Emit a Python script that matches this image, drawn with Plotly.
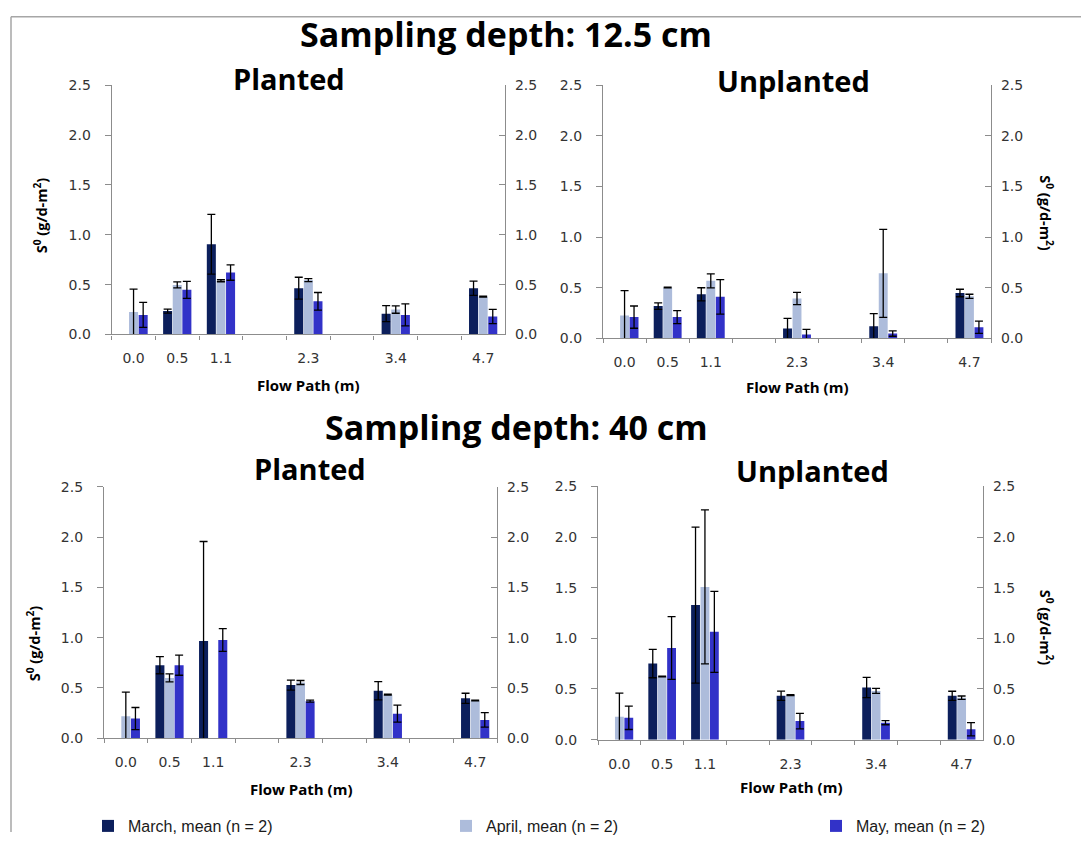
import plotly.graph_objects as go

# ---------------- data ----------------
flow_path = ["0.0", "0.5", "1.1", "2.3", "3.4", "4.7"]
# category slots on the axis (blank slots keep the uneven spacing of the original)
axis_categories = ["0.0", "0.5", "1.1", " ", "2.3", "  ", "3.4", "   ", "4.7"]
y_ticks = [0.0, 0.5, 1.0, 1.5, 2.0, 2.5]

series_names = ["March, mean (n = 2)", "April, mean (n = 2)", "May, mean (n = 2)"]
series_colors = ["#0c1f5c", "#adbcdb", "#3232c8"]

# Sampling depth 12.5 cm, Planted
p125_march = [None, 0.235, 0.905, 0.464, 0.209, 0.464]
p125_march_err = [None, 0.02, 0.30, 0.11, 0.08, 0.072]
p125_april = [0.225, 0.497, 0.539, 0.546, 0.25, 0.379]
p125_april_err = [0.23, 0.03, 0.01, 0.015, 0.037, 0.005]
p125_may = [0.196, 0.448, 0.621, 0.333, 0.196, 0.18]
p125_may_err = [0.125, 0.085, 0.077, 0.088, 0.11, 0.072]

# Sampling depth 12.5 cm, Unplanted
u125_march = [None, 0.319, 0.435, 0.097, 0.12, 0.448]
u125_march_err = [None, 0.032, 0.065, 0.10, 0.125, 0.037]
u125_april = [0.226, 0.503, 0.568, 0.394, 0.642, 0.416]
u125_april_err = [0.245, 0.004, 0.07, 0.06, 0.435, 0.02]
u125_may = [0.21, 0.21, 0.41, 0.039, 0.048, 0.11]
u125_may_err = [0.11, 0.065, 0.17, 0.05, 0.027, 0.06]

# Sampling depth 40 cm, Planted
p40_march = [None, 0.726, 0.967, 0.528, 0.472, 0.397]
p40_march_err = [None, 0.085, 0.99, 0.05, 0.09, 0.05]
p40_april = [0.218, 0.60, None, 0.554, 0.433, 0.375]
p40_april_err = [0.24, 0.04, None, 0.02, 0.004, 0.004]
p40_may = [0.195, 0.726, 0.977, 0.368, 0.244, 0.182]
p40_may_err = [0.11, 0.10, 0.113, 0.01, 0.085, 0.073]

# Sampling depth 40 cm, Unplanted
u40_march = [None, 0.751, 1.329, 0.433, 0.514, 0.433]
u40_march_err = [None, 0.14, 0.77, 0.046, 0.10, 0.045]
u40_april = [0.225, 0.623, 1.508, 0.44, 0.481, 0.414]
u40_april_err = [0.235, 0.004, 0.76, 0.004, 0.025, 0.017]
u40_may = [0.215, 0.905, 1.065, 0.183, 0.167, 0.103]
u40_may_err = [0.115, 0.31, 0.40, 0.077, 0.02, 0.065]

panels = [
    [(p125_march, p125_march_err), (p125_april, p125_april_err), (p125_may, p125_may_err)],
    [(u125_march, u125_march_err), (u125_april, u125_april_err), (u125_may, u125_may_err)],
    [(p40_march, p40_march_err), (p40_april, p40_april_err), (p40_may, p40_may_err)],
    [(u40_march, u40_march_err), (u40_april, u40_april_err), (u40_may, u40_may_err)],
]

# ---------------- layout geometry (pixels) ----------------
W, H = 1081, 843
# left, right, top, bottom of each plot area
boxes = [
    (111.7, 505.0, 79.0, 334.0),
    (603.0, 991.0, 79.0, 338.0),
    (104.0, 497.0, 490.0, 747.0),
    (598.0, 983.0, 489.5, 748.5),
]

def px(x):
    return x / W

def py(y):
    return 1 - y / H

fig = go.Figure()

legend_ids = ["legend", "legend2", "legend3"]
for p, series in enumerate(panels):
    xa = "x" if p == 0 else f"x{p + 1}"
    ya = "y" if p == 0 else f"y{2 * p + 1}"
    yr = f"y{2 * p + 2}"
    for s, (vals, errs) in enumerate(series):
        fig.add_trace(go.Bar(
            x=flow_path, y=vals, name=series_names[s],
            marker=dict(color=series_colors[s], line=dict(width=0)),
            error_y=dict(type="data", array=errs, visible=True,
                         color="#000000", thickness=1.3, width=4),
            xaxis=xa, yaxis=ya,
            showlegend=(p == 0), legend=legend_ids[s],
        ))
    # invisible trace so the right-hand axis is drawn
    fig.add_trace(go.Scatter(x=[flow_path[0]], y=[None], xaxis=xa, yaxis=yr,
                             showlegend=False, hoverinfo="skip", mode="markers"))

tick_font = dict(family="DejaVu Sans", size=14, color="#333333")
axis_col = "#8c8c8c"

for p, (l, r, t, b) in enumerate(boxes):
    xk = "xaxis" if p == 0 else f"xaxis{p + 1}"
    yk = "yaxis" if p == 0 else f"yaxis{2 * p + 1}"
    yrk = f"yaxis{2 * p + 2}"
    xa = "x" if p == 0 else f"x{p + 1}"
    ya = "y" if p == 0 else f"y{2 * p + 1}"
    fig.layout[xk] = dict(
        domain=[px(l), px(r)], anchor=ya, type="category",
        categoryorder="array", categoryarray=axis_categories,
        range=[-0.5, len(axis_categories) - 0.5],
        showline=True, linecolor=axis_col, linewidth=1.2,
        ticks="outside", tickson="boundaries", ticklen=4, tickcolor=axis_col,
        tickfont=tick_font, ticklabelstandoff=11, showgrid=False, zeroline=False,
        fixedrange=True,
    )
    yaxis_common = dict(
        domain=[py(b), py(t)], range=[0, 2.5], tickvals=y_ticks,
        tickformat=".1f", showline=True, linecolor=axis_col, linewidth=1.2,
        tickcolor=axis_col, tickfont=tick_font, showgrid=False, zeroline=False,
        anchor=xa, fixedrange=True,
    )
    fig.layout[yk] = dict(yaxis_common, side="left", ticks="outside", ticklen=6,
                          ticklabelstandoff=11)
    fig.layout[yrk] = dict(yaxis_common, side="right", ticks="inside", ticklen=6,
                           overlaying=ya, ticklabelstandoff=6)

annotations = []
title_font = dict(family="Open Sans", size=34, color="#000000")
sub_font = dict(family="Open Sans", size=29, color="#000000")
axt_font = dict(family="Open Sans", size=15, color="#000000")
ytitle_font = dict(family="Open Sans", size=14.5, color="#000000")

def ann(text, x, y, font, angle=0):
    annotations.append(dict(text=text, x=px(x), y=py(y), xref="paper", yref="paper",
                            showarrow=False, font=font, textangle=angle,
                            xanchor="center", yanchor="middle"))

ann("<b>Sampling depth: 12.5 cm</b>", 506, 27, title_font)
ann("<b>Sampling depth: 40 cm</b>", 516, 429, title_font)
ann("<b>Planted</b>", 289, 72, sub_font)
ann("<b>Unplanted</b>", 793, 74, sub_font)
ann("<b>Planted</b>", 310, 471, sub_font)
ann("<b>Unplanted</b>", 812, 473, sub_font)
for (l, r, t, b), yy in zip(boxes, [386, 388, 799, 797]):
    ann("<b>Flow Path (m)</b>", (l + r) / 2, yy, axt_font)
ytxt = "<b>S<sup>0</sup> (g/d-m<sup>2</sup>)</b>"
ann(ytxt, 40, 212, ytitle_font, -90)
ann(ytxt, 1047, 210, ytitle_font, 90)
ann(ytxt, 33, 650, ytitle_font, -90)
ann(ytxt, 1046, 634, ytitle_font, 90)

legend_font = dict(family="Liberation Sans", size=16, color="#1a1a1a")
leg_common = dict(orientation="h", yanchor="middle", y=py(837), xanchor="left",
                  font=legend_font, bgcolor="rgba(0,0,0,0)", itemwidth=30)

fig.update_layout(
    width=W, height=H,
    margin=dict(l=0, r=0, t=0, b=0),
    paper_bgcolor="white", plot_bgcolor="white",
    barmode="group", bargap=0.34, bargroupgap=0.06,
    annotations=annotations,
    legend=dict(leg_common, x=px(88)),
    legend2=dict(leg_common, x=px(446)),
    legend3=dict(leg_common, x=px(816)),
    shapes=[
        dict(type="line", xref="paper", yref="paper", x0=px(11), x1=1, y0=py(9), y1=py(9),
             line=dict(color="#a6a6a6", width=1.5)),
        dict(type="line", xref="paper", yref="paper", x0=px(11), x1=px(11), y0=py(9), y1=0,
             line=dict(color="#a6a6a6", width=1.5)),
    ],
)

fig.write_html("out.html")
